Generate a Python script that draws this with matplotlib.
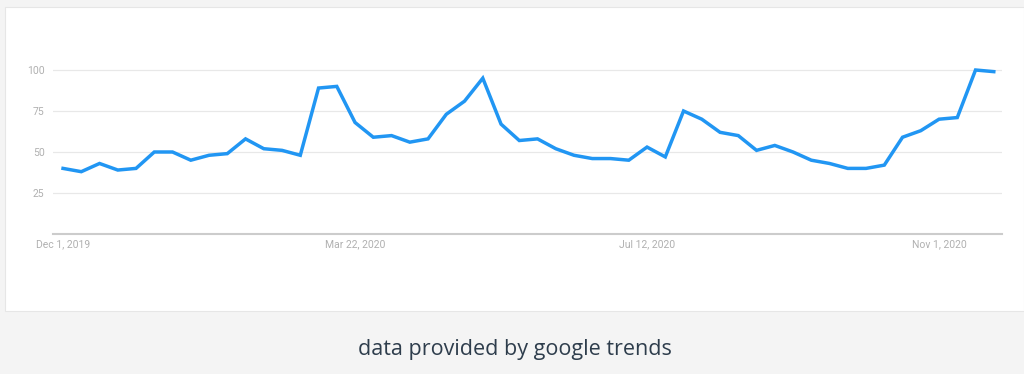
import matplotlib
matplotlib.use("Agg")
import matplotlib.pyplot as plt
from matplotlib.patches import Rectangle
import pandas as pd

start_date = "2019-12-01"
values = [40, 38, 43, 39, 40, 50, 50, 45, 48, 49, 58, 52, 51, 48, 89, 90,
          68, 59, 60, 56, 58, 73, 81, 95, 67, 57, 58, 52, 48, 46, 46, 45,
          53, 47, 75, 70, 62, 60, 51, 54, 50, 45, 43, 40, 40, 42, 59, 63,
          70, 71, 100, 99]
dates = pd.date_range(start_date, periods=len(values), freq="7D")
y_ticks = [25, 50, 75, 100]
x_tick_dates = pd.to_datetime(["2019-12-01", "2020-03-22", "2020-07-12", "2020-11-01"])
x_tick_labels = ["Dec 1, 2019", "Mar 22, 2020", "Jul 12, 2020", "Nov 1, 2020"]
caption = "data provided by google trends"

W, H = 1024, 374
fig = plt.figure(figsize=(W / 100, H / 100), dpi=100)
fig.patch.set_facecolor("#f4f4f4")

# white card
card = Rectangle((5 / W, 1 - 311 / H), (W - 5) / W, (311 - 7) / H,
                 transform=fig.transFigure, facecolor="white",
                 edgecolor="#e6e6e6", linewidth=0.8, zorder=-10)
fig.patches.append(card)

# axes: x from 53 to 1002 px, y: 0 at 234 px, 100 at 70 px
ax_left, ax_right = 53, 1002
y0_px, y100_px = 234, 70
top_val = 120
top_px = y0_px - (y0_px - y100_px) * top_val / 100
ax = fig.add_axes([ax_left / W, 1 - y0_px / H, (ax_right - ax_left) / W, (y0_px - top_px) / H])
ax.set_zorder(5)
ax.patch.set_alpha(0)

ax.plot(dates, values, color="#2196f3", linewidth=2.5, solid_joinstyle="miter", zorder=3)

ax.set_ylim(0, top_val)
week = pd.Timedelta(days=7)
ax.set_xlim(dates[0] - 0.55 * week, dates[0] + 51.45 * week)

ax.set_yticks(y_ticks)
ax.set_yticklabels([str(v) for v in y_ticks])
ax.yaxis.grid(True, color="#e8e8e8", linewidth=0.9)
ax.set_axisbelow(True)
ax.set_xticks(x_tick_dates)
ax.set_xticklabels(x_tick_labels)

for s in ["top", "right", "left"]:
    ax.spines[s].set_visible(False)
ax.spines["bottom"].set_color("#cccccc")
ax.spines["bottom"].set_linewidth(1.5)

ax.tick_params(axis="both", length=0, labelsize=7.5, labelcolor="#b0b0b0")
ax.tick_params(axis="y", pad=6)
ax.tick_params(axis="x", pad=4)
for lab in ax.get_xticklabels() + ax.get_yticklabels():
    lab.set_fontfamily("Roboto")

fig.text(515 / W, 1 - 350 / H, caption, ha="center", va="center",
         fontsize=15.5, color="#2e3d4c", fontfamily="Open Sans")

fig.savefig("out.png", dpi=100, facecolor=fig.get_facecolor())
